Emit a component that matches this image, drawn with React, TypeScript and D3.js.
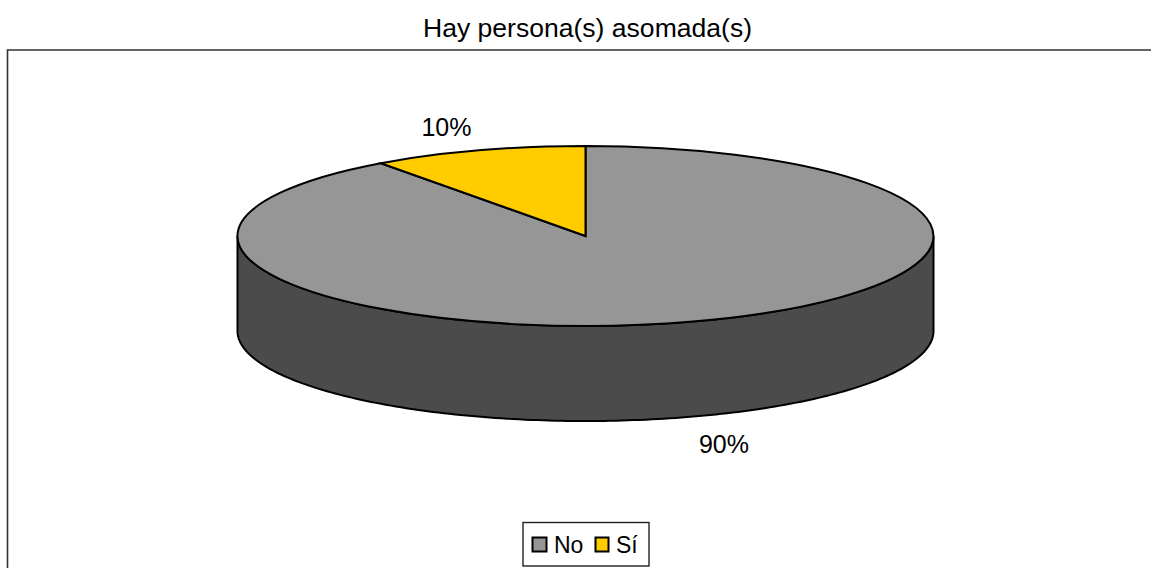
import React from "react";
import * as d3 from "d3";

const categories = ["No", "Sí"];
const seriesValues = [90, 10];
const pctLabels = ["90%", "10%"];
const colors = ["#969696", "#FFCC00"];
const sideColor = "#4B4B4B";
const title = "Hay persona(s) asomada(s)";

const W = 1151, H = 568;
const cx = 585.5, cy = 236, rx = 348, ry = 90, depth = 95;
const font = "'Liberation Sans', Arial, sans-serif";

export default function App() {
  React.useEffect(() => {
    document.body.style.margin = "0";
  }, []);
  const pie = d3.pie<number>().sort(null).startAngle(0).endAngle(2 * Math.PI);
  const arcs = pie(seriesValues);
  const arc = d3.arc<d3.PieArcDatum<number>>().innerRadius(0).outerRadius(1);
  const x = d3.scaleLinear().domain([-1, 1]).range([cx - rx, cx + rx]);
  const y = d3.scaleLinear().domain([-1, 1]).range([cy - ry, cy + ry]);

  // front wall: lower half of the ellipse, extruded by the depth
  const angles = d3.range(0, 181).map((d) => (d * Math.PI) / 180);
  const line = d3.line<[number, number]>();
  const topEdge = angles.map((a) => [x(Math.cos(a)), y(Math.sin(a))] as [number, number]);
  const botEdge = [...topEdge].reverse().map(([px, py]) => [px, py + depth] as [number, number]);
  const wall = line([...topEdge, ...botEdge]) + "Z";

  return (
    <svg width={W} height={H} style={{ display: "block" }} fontFamily={font}>
      <rect width={W} height={H} fill="#fff" />
      <path d={`M7.5,${H}V50H${W}`} fill="none" stroke="#333" strokeWidth={1.6} />
      <text x={423} y={37} textLength={329} lengthAdjust="spacingAndGlyphs" fontSize={25.5} fill="#000">{title}</text>

      <path d={wall} fill={sideColor} stroke="#000" strokeWidth={2} />
      {arcs.map((a, i) => (
        <path
          key={categories[i]}
          d={arc(a) ?? ""}
          transform={`translate(${cx},${cy}) scale(${rx},${ry})`}
          fill={colors[i]}
          stroke="#000"
          strokeWidth={2}
          vectorEffect="non-scaling-stroke"
        />
      ))}

      <text x={724} y={453} textAnchor="middle" fontSize={25}>{pctLabels[0]}</text>
      <text x={446.5} y={136} textAnchor="middle" fontSize={25}>{pctLabels[1]}</text>

      <rect x={523} y={522.5} width={126} height={43.5} fill="#fff" stroke="#222" strokeWidth={1.4} />
      <rect x={532.5} y={537.5} width={14} height={14} fill={colors[0]} stroke="#000" strokeWidth={2} />
      <text x={554} y={553} fontSize={23}>{categories[0]}</text>
      <rect x={595.5} y={537.5} width={13} height={14} fill={colors[1]} stroke="#000" strokeWidth={2} />
      <text x={616} y={553} fontSize={23}>{categories[1]}</text>
    </svg>
  );
}
